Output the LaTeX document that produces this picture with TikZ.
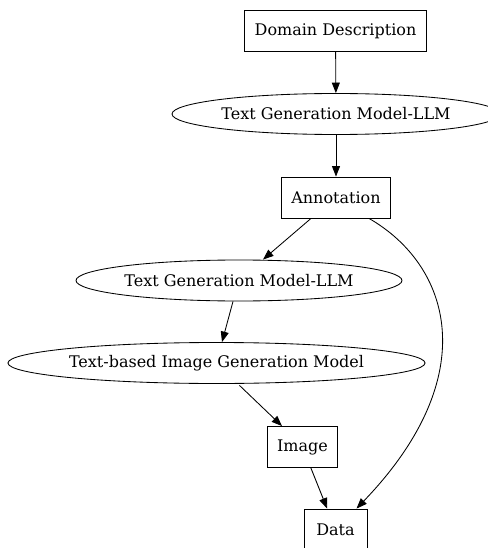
\documentclass[tikz,border=0pt]{standalone}
\usepackage{fontspec}
\setmainfont{DejaVu Serif}
\usepackage{tikz}
\usetikzlibrary{arrows.meta,calc,shapes.geometric}

\begin{document}
\begin{tikzpicture}[x=1pt, y=-1pt,
  box/.style={draw, line width=0.85pt, minimum height=41pt, minimum width=63pt,
              inner xsep=10pt, font=\fontsize{16}{19}\selectfont},
  oval/.style={draw, ellipse, line width=0.85pt, minimum height=41pt, inner sep=0pt,
               font=\fontsize{16}{19}\selectfont},
  arr/.style={-{Triangle[length=10.5pt, width=8pt]}, line width=0.85pt}]
\useasboundingbox (0,0) rectangle (487,548);
% rectangular steps
\foreach \n/\x/\y/\l in
  {dom/335.5/31/{Domain Description}, ann/336/197.5/Annotation,
   img/302.5/447/Image, dat/335.5/529.5/Data}
  \node[box] (\n) at (\x,\y) {\l};
% model steps
\foreach \n/\x/\y/\w/\l in
  {llma/336/114/328/{Text Generation Model-LLM},
   llmb/239/280.5/326/{Text Generation Model-LLM},
   tgen/216.5/363/413/{Text-based Image Generation Model}}
  \node[oval, minimum width=\w] (\n) at (\x,\y) {\l};
\foreach \a/\b in {dom/llma,llma/ann,img/dat}
  \draw[arr] (\a) -- (\b);
\draw[arr] ($(ann.south)+(-25,0)$) -- ($(llmb.north)+(24,0)$);
\draw[arr] ($(llmb.south)+(-6,0)$) -- ($(tgen.north)+(5.5,0)$);
\draw[arr] ($(tgen.south)+(23,1.5)$) -- ($(img.north)+(-20.5,0)$);
% annotations also go straight into the data
\draw[arr] ($(ann.south)+(33,0)$) .. controls (450,265) and (485,375) .. ($(dat.north)+(21,0)$);
\end{tikzpicture}
\end{document}
